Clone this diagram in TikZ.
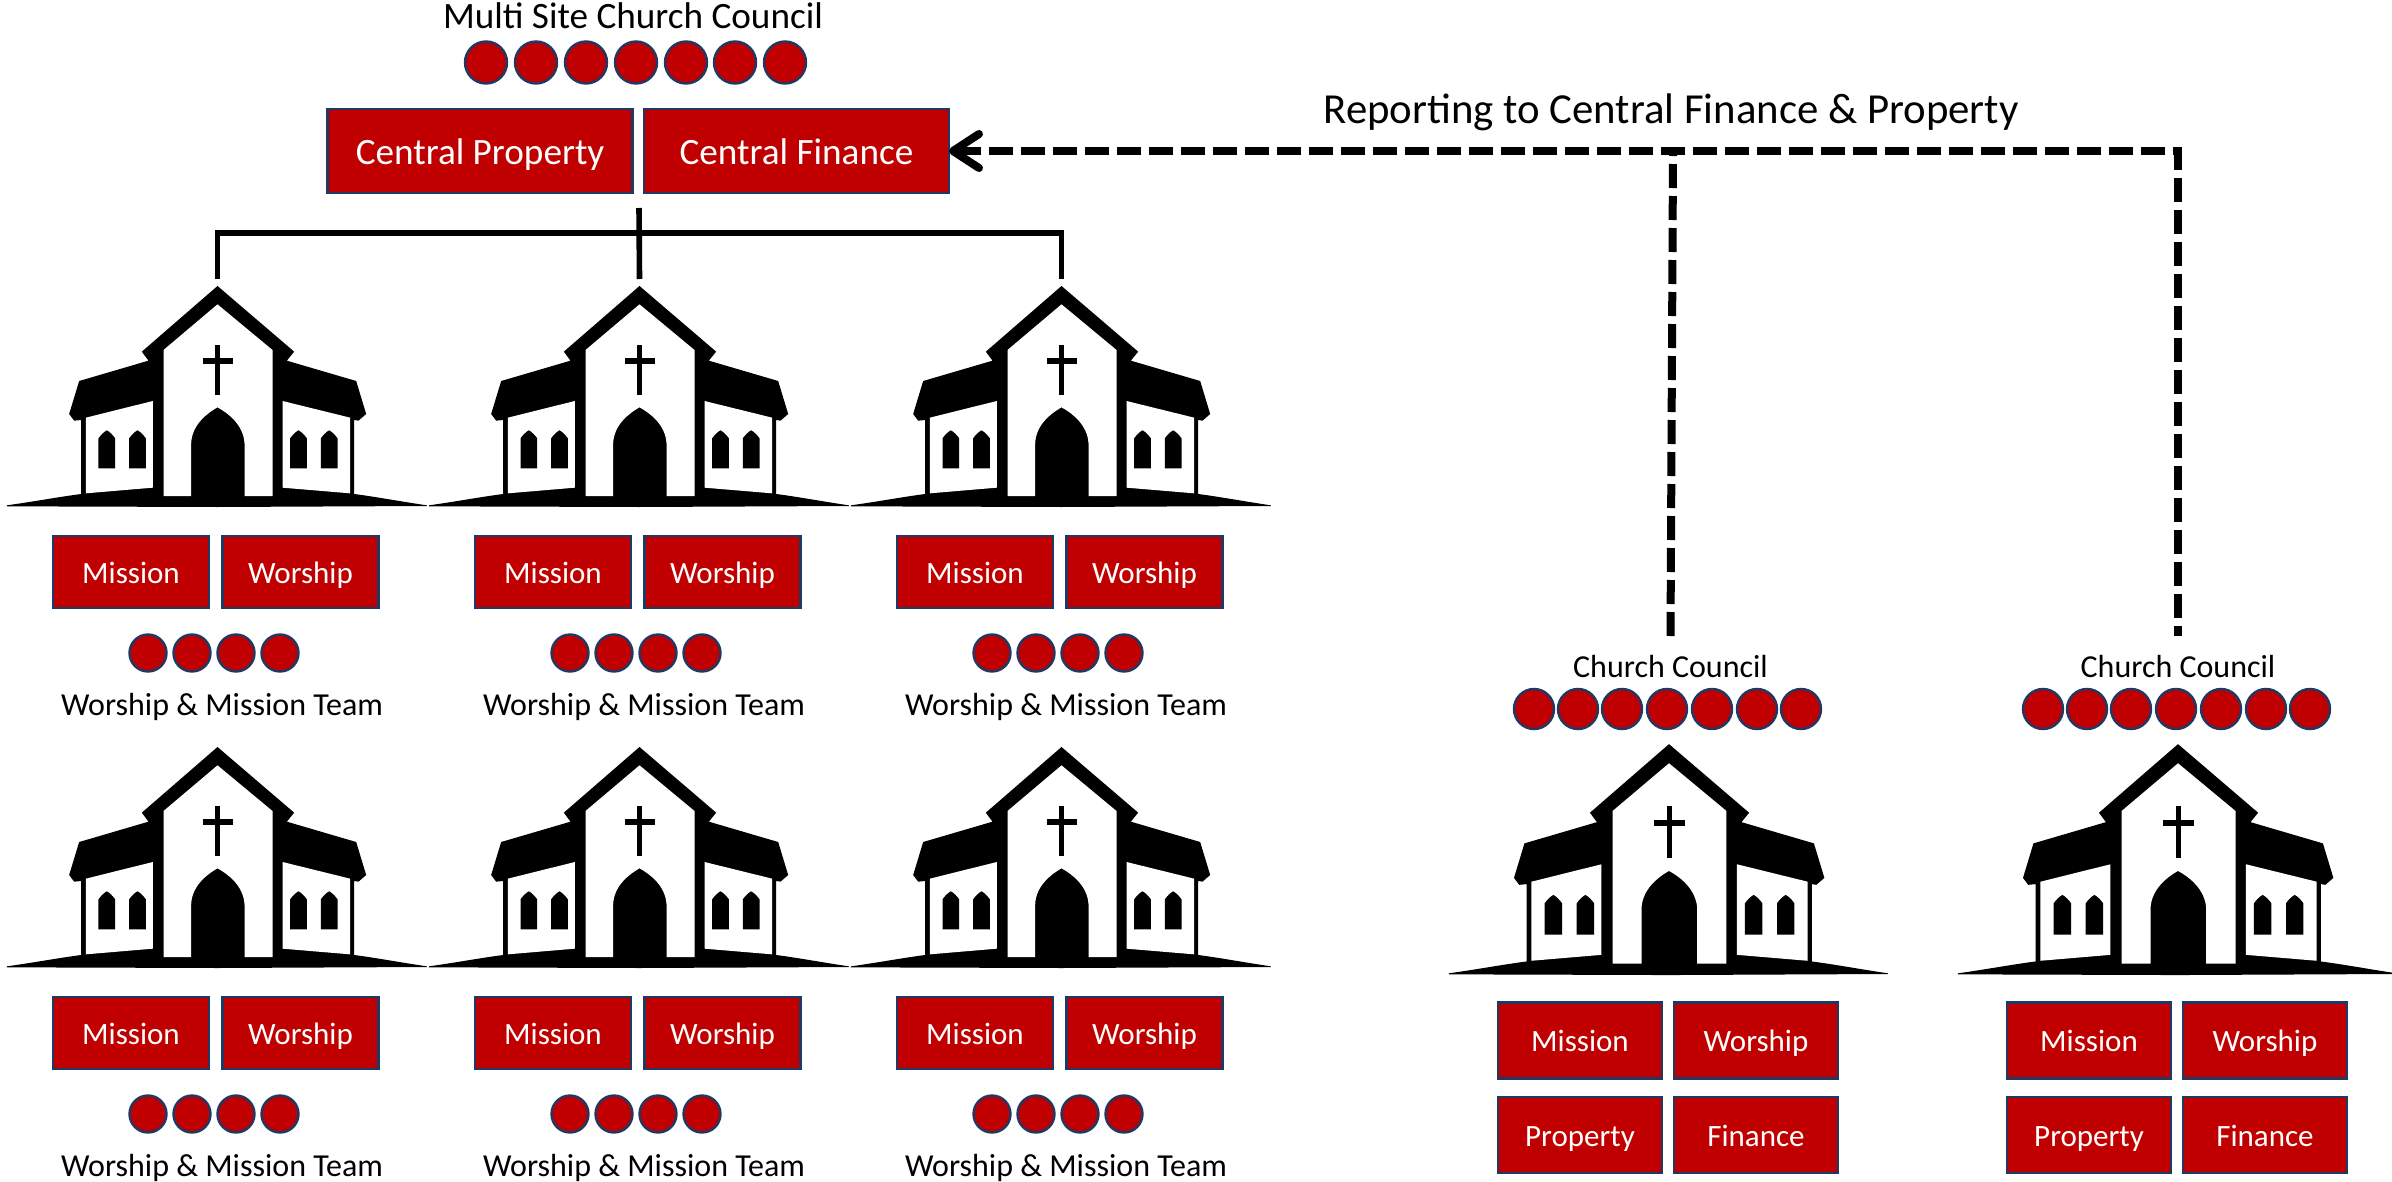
\documentclass[tikz,border=0pt]{standalone}
\usepackage{fontspec}
\setmainfont{Carlito}
\usetikzlibrary{arrows.meta}
\definecolor{boxred}{HTML}{C00000}
\definecolor{boxblue}{HTML}{1F3864}
\newcommand{\smallfs}{\fontsize{15.5}{18}\selectfont}
\newcommand{\labelfs}{\fontsize{16}{19}\selectfont}
\newcommand{\bigfs}{\fontsize{18.6}{22}\selectfont}
\newcommand{\hugefs}{\fontsize{21.4}{25}\selectfont}
\tikzset{
  redbox/.style={draw=boxblue,fill=boxred,line width=1.3pt,text=white,inner sep=0pt,outer sep=0pt,font=\smallfs,text height=11.4pt,text depth=0pt},
  smallbox/.style={redbox,minimum width=78pt,minimum height=36pt},
  bigbox/.style={redbox,minimum width=152.5pt,minimum height=42pt,font=\bigfs,text height=13.2pt},
  rightbox/.style={redbox,minimum width=82pt,minimum height=38pt},
  dot/.style={circle,draw=boxblue,fill=boxred,line width=1.2pt,inner sep=0pt,minimum size=18.5pt},
  bigdot/.style={dot,minimum size=21pt},
  rightdot/.style={dot,minimum size=20pt},
  label/.style={inner sep=0pt,outer sep=0pt,font=\labelfs,text=black,text height=10pt,text depth=0pt},
  biglabel/.style={label,font=\bigfs,text height=11.8pt},
  hugelabel/.style={label,font=\hugefs,text height=13.6pt},
  tree/.style={line width=2.8pt,draw=black},
  report/.style={line width=4pt,draw=black,dash pattern=on 12pt off 4pt},
  churchbody/.style={fill=black,draw=none},
  churchwhite/.style={fill=white,draw=none},
  churchnode/.style={inner sep=0pt,outer sep=0pt,draw=none}
}
% #1 node name, #2 x centre, #3 ground y, #4 scale
\newcommand{\churchicon}[4]{%
  \node[churchnode,minimum width=#4*210pt,minimum height=#4*113.5pt,anchor=south] (#1) at (#2,#3) {};
  \begin{scope}[shift={(#2,#3)},x=#4*0.166667pt,y=-#4*0.166667pt]
  \begin{scope}[shift={(-652,-708)}]
    \fill[churchbody] (20,706) .. controls (100,695) and (180,680) .. (243,672) -- (243,450) -- (222,452) -- (207,432) -- (237,333) -- (445,272) -- (425,245) -- (652,48) -- (882,245) -- (860,272) -- (1068,333) -- (1098,432) -- (1075,452) -- (1062,450) -- (1062,672) .. controls (1125,680) and (1205,695) .. (1280,706) -- (1280,708) -- (652,711) -- (20,709) -- cycle;
    \fill[churchwhite] (490,678) -- (490,240) -- (652,103) -- (817,240) -- (817,678) -- (733,678) -- (733,520) .. controls (730,465) and (685,430) .. (652,412) .. controls (620,430) and (575,465) .. (573,520) -- (573,678) -- cycle;
    \fill[churchbody] (645,225) rectangle (660,375);
    \fill[churchbody] (608,265) rectangle (698,282);
    \fill[churchwhite] (257,670) -- (257,443) -- (458,393) -- (458,653) -- cycle;
    \fill[churchwhite] (847,653) -- (847,393) -- (1050,443) -- (1050,670) -- cycle;
    \foreach \w in {320,412,895,987} {
      \fill[churchbody] (\w-25,595) -- (\w-25,505) .. controls (\w-18,495) and (\w-8,485) .. (\w,481) .. controls (\w+8,485) and (\w+18,495) .. (\w+25,505) -- (\w+25,595) -- cycle;
    }
  \end{scope}
  \end{scope}
}
\begin{document}
\begin{tikzpicture}[x=0.5pt,y=-0.5pt]
\useasboundingbox (0,0) rectangle (2392,1182);

% multi-site head
\node[biglabel] (msc) at (633,17) {Multi Site Church Council};
\foreach \n/\x in {1/486,2/536,3/586,4/636,5/686,6/735,7/785} {
  \node[bigdot] (md\n) at (\x,62.5) {};
}
\node[bigbox] (cprop) at (480,151) {Central Property};
\node[bigbox] (cfin) at (796.5,151) {Central Finance};

% six campus churches
\foreach \i/\cx/\by in {1/217.5/506,2/639.5/506,3/1061.5/506,4/217.5/967,5/639.5/967,6/1061.5/967} {
  \churchicon{c\i}{\cx}{\by}{1}
  \node[smallbox] (mi\i) at ({\cx-86.5},{\by+66}) {Mission};
  \node[smallbox] (wo\i) at ({\cx+83},{\by+66}) {Worship};
  \foreach \k/\d in {1/-69.5,2/-25.5,3/18.5,4/62.5} {
    \node[dot] (t\i d\k) at ({\cx+\d},{\by+147}) {};
  }
  \node[label] (wm\i) at ({\cx+4.5},{\by+199}) {Worship \& Mission Team};
}

% independent churches
\foreach \i/\cx/\tx in {7/1669/1670.5,8/2178/2178} {
  \churchicon{c\i}{\cx}{974}{1.045}
  \node[label,minimum height=31pt] (cl\i) at (\tx,667) {Church Council};
  \foreach \k/\d in {1/-135,2/-91,3/-47,4/-2,5/43,6/88,7/132} {
    \node[rightdot] (r\i d\k) at ({\cx+\d},709) {};
  }
  \node[rightbox] (rm\i) at ({\cx-89},1040.5) {Mission};
  \node[rightbox] (rw\i) at ({\cx+87},1040.5) {Worship};
  \node[rightbox] (rp\i) at ({\cx-89},1135) {Property};
  \node[rightbox] (rf\i) at ({\cx+87},1135) {Finance};
}

% connectors
\coordinate (stem) at (639,208);
\coordinate (bar) at (639,233);
\coordinate (join) at (1673,151);
\draw[tree] (stem) -- (c2.north);
\draw[tree] (c1.north) |- (bar) -| (c3.north);
\draw[report,{Straight Barb[round,length=13pt,width=17pt]}-] (cfin.east) -| (cl8.north);
\draw[report] (cl7.north) -- (join);

\node[hugelabel] (rep) at (1671,110) {Reporting to Central Finance \& Property};
\end{tikzpicture}
\end{document}
